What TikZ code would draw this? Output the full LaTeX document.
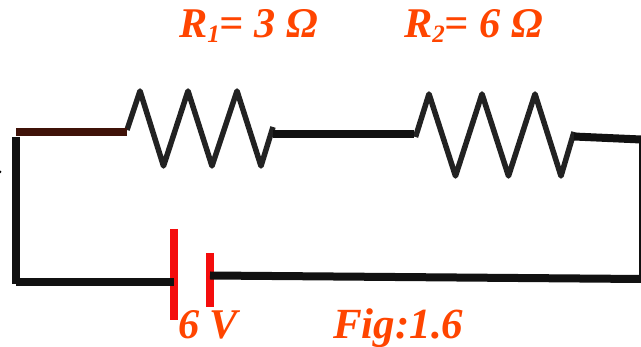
\documentclass[tikz,border=0pt]{standalone}
\usepackage{fontspec}
\setmainfont{Liberation Serif}
\definecolor{lab}{HTML}{FF4500}
\definecolor{wireblack}{HTML}{111111}
\definecolor{wirebrown}{HTML}{3F1208}
\definecolor{plate}{HTML}{F40D0D}
\definecolor{zig}{HTML}{222222}
\tikzset{
  wire/.style={draw=wireblack,line width=8pt},
  zigzag/.style={draw=zig,line width=5.5pt,line join=round},
  batplate/.style={draw=plate,line width=8pt},
  lbl/.style={text=lab,font=\fontsize{42.3}{42.3}\selectfont\bfseries\itshape,inner sep=0pt,anchor=base west}
}
\newcommand{\lowsub}[1]{\raisebox{-4.5pt}{\fontsize{25}{25}\selectfont #1}}
\begin{document}
\begin{tikzpicture}[x=1pt,y=-1pt]
\useasboundingbox (0,0) rectangle (641,347);
\fill[white] (0,0) rectangle (641,347);
% named junctions
\coordinate (tl) at (16,132);
\coordinate (r1a) at (127,132);
\coordinate (r1b) at (273,134);
\coordinate (r2a) at (414,134);
\coordinate (r2b) at (574,136.5);
\coordinate (tr) at (641,139.5);
\coordinate (br) at (641,279);
\coordinate (bl) at (16,282.5);
\coordinate (lt) at (16,137);
\coordinate (pa) at (174,282.5);
\coordinate (pb) at (210,275.5);
% battery
\draw[batplate] (174,229) -- (174,320);
\draw[batplate] (209.5,253) -- (209.5,307);
% resistors
\draw[zigzag] (127,130) -- (140,91) -- (163.5,166) -- (188,91) -- (212,166) -- (237,91) -- (261,166) -- (273,127);
\draw[zigzag] (415.5,137) -- (429,94) -- (455.5,176) -- (482,94) -- (508.5,176) -- (535,94) -- (561,176) -- (574,132);
% wires
\draw[draw=wirebrown,line width=8pt] (tl) -- (r1a);
\draw[wire] (r1b) -- (r2a);
\draw[wire] (r2b) -- (tr);
\draw[line width=3pt,draw=wireblack] (640.5,139) -- (640.5,278);
\draw[wire] (lt) -- (16,284);
\draw[wire] (bl) -- (pa);
\draw[wire] (pb) -- (br);
\fill[black] (0,172) circle (1.5pt);
% labels
\node[lbl] (rone) at (179,38) {R\lowsub{1}= 3 Ω};
\node[lbl] (rtwo) at (404,38) {R\lowsub{2}= 6 Ω};
\node[lbl] (volt) at (178,339) {6 V};
\node[lbl,font=\fontsize{43}{43}\selectfont\bfseries\itshape] (fig) at (333,339) {Fig:1.6};
\end{tikzpicture}
\end{document}
